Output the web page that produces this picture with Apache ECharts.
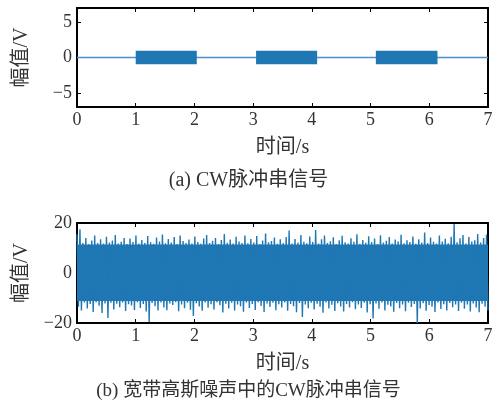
<!DOCTYPE html>
<html><head><meta charset="utf-8">
<script src="https://cdn.jsdelivr.net/npm/echarts@6/dist/echarts.min.js"></script>
<style>html,body{margin:0;padding:0;background:#fff}#c{width:497px;height:405px}</style>
</head><body><div id="c"></div>
<script>
// ---- data ----
const xTicks = [0,1,2,3,4,5,6,7];
const yTicksTop = [-5,0,5];
const yTicksBottom = [-20,0,20];
// CW pulse train: start/end time (s) and amplitude (V)
const pulseStart = [1.0, 3.05, 5.09];
const pulseEnd   = [2.04, 4.09, 6.14];
const pulseAmp   = [0.95, 0.95, 0.95];
const baseline = [[0,0],[7,0]];
// dense core of the noisy signal (V)
const noiseCore = [-11.2, 11.4];
// noisy signal: per-bin (0.05 s) upper and lower peaks
const noiseHi = [
15.5,17.5,12,14,11.5,13,15,12,13.5,11.8,
14.5,12.2,13,15.2,11.8,12.5,14,11.6,13.8,12.4,
15,11.8,13.2,12,14.8,12.3,11.7,14.2,12.6,15.4,
11.9,13.6,12.2,14.4,11.6,15,12.8,12,13.4,11.8,
14.6,12.4,11.7,13.8,15.2,12,12.9,14,11.6,13.2,
15.6,12.1,13.4,11.8,14.5,12.6,12,15,11.9,13.6,
12.2,14.8,11.6,13,15.8,12.3,12.8,14.2,11.7,13.5,
12,14.4,17,11.8,13.6,12.2,15.2,12.5,11.9,14.6,
12.4,17.2,11.8,13.5,15,12,12.7,14.3,11.6,13.1,
14.9,12.3,11.8,13.9,12.5,15.5,11.7,13.2,12.1,14.7,
12.4,13.8,11.6,15.1,12.2,12.9,14.4,11.8,13.4,12.6,
15.3,11.9,13.1,12.4,14.6,11.7,13.5,12.2,16.2,12,
14.2,12.5,11.8,15,12.6,13.7,11.9,14.5,19.6,12.3,
13.9,15.2,11.8,14.4,12.6,13.1,15.6,12.2,14,15.4];
const noiseLo = [
-13.5,-15,-11.8,-14.2,-12.4,-15.6,-11.7,-13.1,-16,-12.2,
-18,-11.9,-14.6,-12.3,-13.7,-11.8,-15.2,-12.5,-13,-14.8,
-11.7,-14,-12.4,-15.4,-19.6,-12,-13.3,-15,-11.8,-13.8,
-14.9,-12.2,-12.8,-11.7,-15.3,-12.6,-14.1,-11.9,-14.7,-17.2,
-12.1,-13.4,-15.1,-11.8,-13.9,-12.5,-14.6,-11.7,-12.9,-15.8,
-12.3,-14.2,-11.9,-15,-12.6,-13.3,-15.5,-11.8,-14,-12.4,
-14.8,-11.7,-13.2,-15.6,-12.2,-13.6,-11.9,-14.9,-12.5,-13.8,
-11.8,-15.1,-12.4,-13.3,-15.7,-12,-17.6,-12.6,-14.1,-11.9,
-14.6,-12.3,-13.5,-15.9,-11.8,-14.2,-12.7,-15.2,-12.1,-13.4,
-15.4,-12.4,-13.8,-11.7,-14.5,-12.6,-14,-11.9,-15.8,-12.5,
-18.2,-12.2,-14.3,-11.8,-15,-12.7,-13.4,-15.5,-12,-14.1,
-12.6,-15.3,-11.9,-13.6,-12.4,-20,-14.2,-12.1,-15.1,-12.8,
-13.5,-15.6,-11.8,-14.4,-12.5,-15,-12,-13.7,-12.6,-15.2,
-11.9,-14.3,-12.6,-15.4,-12.2,-13.8,-15.7,-12.3,-13.5,-15];
const captionA = '(a) CW脉冲串信号';
const captionB = '(b) 宽带高斯噪声中的CW脉冲串信号';
const xName = '时间/s';
const yName = '幅值/V';

// ---- build ----
const FONT = "'Liberation Serif', 'Noto Sans CJK SC', serif";
const BLUE = '#1f77b4';
const noiseData = [];
const nPts = noiseHi.length * 2;
for (let i = 0; i < noiseHi.length; i++) {
  noiseData.push([(2*i) * 7 / (nPts-1), noiseHi[i]]);
  noiseData.push([(2*i+1) * 7 / (nPts-1), noiseLo[i]]);
}
const pulses = pulseStart.map((s,i)=>[s, pulseEnd[i], pulseAmp[i]]);
const fmt = v => String(v).replace('-', '\u2212');

function xAx(gi, pos, show) {
  return {
    type:'value', gridIndex:gi, position:pos, min:0, max:7, interval:1,
    axisLine:{show:true, onZero:false, lineStyle:{color:'#000', width:2}},
    axisTick:{show:true, inside:true, length:4, lineStyle:{color:'#000', width:1}},
    axisLabel:{show:show, color:'#333', fontFamily:FONT, fontSize:18, margin:4, formatter:fmt},
    splitLine:{show:false},
    name: show ? xName : '', nameLocation:'middle', nameGap:31,
    nameTextStyle:{color:'#333', fontFamily:FONT, fontSize:20}
  };
}
function yAx(gi, pos, show, min, max, ticks) {
  return {
    type:'value', gridIndex:gi, position:pos, min:min, max:max,
    axisLine:{show:true, onZero:false, lineStyle:{color:'#000', width:2}},
    axisTick:{show:true, inside:true, length:4, customValues:ticks, lineStyle:{color:'#000', width:1}},
    axisLabel:{show:show, customValues:ticks, color:'#333', fontFamily:FONT, fontSize:18, margin:5, formatter:fmt},
    splitLine:{show:false},
    name: show ? yName : '', nameLocation:'middle', nameGap:45,
    nameTextStyle:{color:'#333', fontFamily:FONT, fontSize:20}
  };
}

const chart = echarts.init(document.getElementById('c'), null, {renderer:'canvas'});
chart.setOption({
  animation:false,
  backgroundColor:'#fff',
  grid:[
    {left:77, right:9, top:8, height:99},
    {left:77, right:9, top:223, height:100}
  ],
  xAxis:[xAx(0,'bottom',true), xAx(0,'top',false), xAx(1,'bottom',true), xAx(1,'top',false)],
  yAxis:[yAx(0,'left',true,-7,7,yTicksTop), yAx(0,'right',false,-7,7,yTicksTop),
         yAx(1,'left',true,-20,20,yTicksBottom), yAx(1,'right',false,-20,20,yTicksBottom)],
  series:[
    {type:'line', xAxisIndex:0, yAxisIndex:0, data:baseline, showSymbol:false,
     lineStyle:{color:'#4a90cc', width:1.5}, z:2},
    {type:'custom', xAxisIndex:0, yAxisIndex:0, data:pulses, z:3,
     renderItem:(params, api)=>{
       const p0 = api.coord([api.value(0), api.value(2)]);
       const p1 = api.coord([api.value(1), -api.value(2)]);
       return {type:'rect', shape:{x:p0[0], y:p0[1], width:p1[0]-p0[0], height:p1[1]-p0[1]},
               style:{fill:BLUE}};
     }},
    {type:'custom', xAxisIndex:2, yAxisIndex:2, data:[[0,7,noiseCore[0],noiseCore[1]]], z:2,
     renderItem:(params, api)=>{
       const p0 = api.coord([api.value(0), api.value(3)]);
       const p1 = api.coord([api.value(1), api.value(2)]);
       return {type:'rect', shape:{x:p0[0], y:p0[1], width:p1[0]-p0[0], height:p1[1]-p0[1]},
               style:{fill:BLUE}};
     }},
    {type:'line', xAxisIndex:2, yAxisIndex:2, data:noiseData, showSymbol:false, sampling:null,
     lineStyle:{color:BLUE, width:1.4, join:'bevel'}, z:3}
  ],
  graphic:[
    {type:'text', left:'center', top:171, style:{text:captionA, font:"20px "+FONT, fill:'#333'}},
    {type:'text', left:'center', top:382, style:{text:captionB, font:"19px "+FONT, fill:'#333'}}
  ]
});
</script></body></html>
